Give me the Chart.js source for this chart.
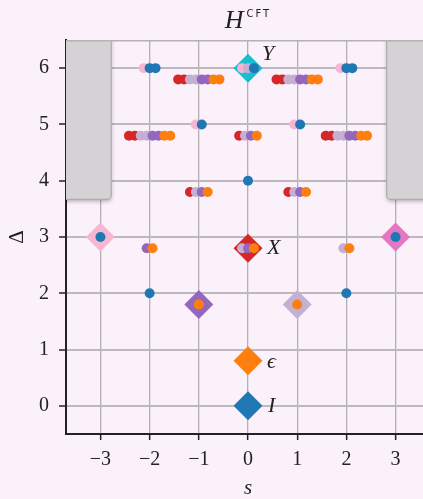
<!DOCTYPE html>
<html>
<head>
<meta charset="utf-8">
<title>H CFT spectrum</title>
<script src="https://cdn.jsdelivr.net/npm/chart.js@4.4.1/dist/chart.umd.min.js"></script>
<style>
  html, body { margin: 0; padding: 0; background: #fbf1fb; overflow: hidden; }
  canvas { display: block; }
</style>
</head>
<body>
<canvas id="spectrumChart" width="432" height="499"></canvas>
<script>
// Axis ticks
const sTicks = [-3, -2, -1, 0, 1, 2, 3];
const sTickLabels = ['−3', '−2', '−1', '0', '1', '2', '3'];
const deltaTicks = [0, 1, 2, 3, 4, 5, 6];
const deltaTickLabels = ['0', '1', '2', '3', '4', '5', '6'];

// CFT operators (diamonds)
const primaryS = [0, 0, -1, 1, 0, -3, 3, 0];
const primaryDelta = [0, 0.8, 1.8, 1.8, 2.8, 3, 3, 6];
const primaryColours = ['blue', 'orange', 'purple', 'lavender', 'red', 'pink', 'magenta', 'cyan'];
const primaryNames = ['I', 'ϵ', '', '', 'X', '', '', 'Y'];

// Numerical levels: spin, scaling dimension, and the states found there
const levelS = [-2, 0, 2, -1, 1, -1, 1, -2, 0, 2, 0, -1, 1, -3, 3, -2, 0, 2, -2, 2, -1, 1];
const levelDelta = [6, 6, 6, 5.8, 5.8, 5, 5, 4.8, 4.8, 4.8, 4, 3.8, 3.8, 3, 3, 2.8, 2.8, 2.8, 2, 2, 1.8, 1.8];
const levelStates = [
    ['pink', 'blue', 'blue'],
    ['pink', 'lavender', 'blue'],
    ['pink', 'blue', 'blue'],
    ['red', 'red', 'lavender', 'lavender', 'purple', 'purple', 'orange', 'orange'],
    ['red', 'red', 'lavender', 'lavender', 'purple', 'purple', 'orange', 'orange'],
    ['pink', 'blue'],
    ['pink', 'blue'],
    ['red', 'red', 'lavender', 'lavender', 'purple', 'purple', 'orange', 'orange'],
    ['red', 'lavender', 'purple', 'orange'],
    ['red', 'red', 'lavender', 'lavender', 'purple', 'purple', 'orange', 'orange'],
    ['blue'],
    ['red', 'lavender', 'purple', 'orange'],
    ['red', 'lavender', 'purple', 'orange'],
    ['blue'],
    ['blue'],
    ['purple', 'orange'],
    ['lavender', 'purple', 'orange'],
    ['lavender', 'orange'],
    ['blue'],
    ['blue'],
    ['orange'],
    ['orange']
];

const palette = {
    blue: '#1f77b4',
    orange: '#ff7f0e',
    red: '#d62728',
    purple: '#9467bd',
    lavender: '#c5b0d5',
    pink: '#f7b6d2',
    magenta: '#e377c2',
    cyan: '#17becf'
};

const serif = '"Liberation Serif", "DejaVu Serif", serif';
const ink = '#222';

// states sharing a level are spread a little along s so they stay visible
const spread = 0.12;
const dotOrder = ['blue', 'orange', 'purple', 'lavender', 'red', 'pink'];
const dotsByColour = {};
dotOrder.forEach(c => { dotsByColour[c] = []; });
levelS.forEach((s, i) => {
    const states = levelStates[i];
    states.forEach((c, j) => {
        dotsByColour[c].push({ x: s + (j - (states.length - 1) / 2) * spread, y: levelDelta[i] });
    });
});

const dotDatasets = dotOrder.map((c, k) => ({
    label: c,
    data: dotsByColour[c],
    backgroundColor: palette[c],
    borderWidth: 0,
    pointRadius: 5,
    order: k + 1
}));

const primaryDataset = {
    label: 'CFT',
    data: primaryS.map((s, i) => ({ x: s, y: primaryDelta[i] })),
    backgroundColor: primaryColours.map(c => palette[c]),
    borderWidth: 0,
    pointStyle: 'rectRot',
    pointRadius: 14.5,
    order: 20
};

// grey excluded corners, in data units
const excluded = [
    { s0: -3.9, s1: -2.78, d0: 3.67, d1: 6.7 },
    { s0: 2.82, s1: 3.9, d0: 3.67, d1: 6.7 }
];

const excludedPlugin = {
    id: 'excluded',
    beforeDatasetsDraw(chart) {
        const { ctx, chartArea: a, scales: { x, y } } = chart;
        ctx.save();
        ctx.beginPath();
        ctx.rect(a.left, a.top, a.right - a.left, a.bottom - a.top);
        ctx.clip();
        excluded.forEach(r => {
            const left = x.getPixelForValue(r.s0);
            const right = x.getPixelForValue(r.s1);
            const top = y.getPixelForValue(r.d1);
            const bottom = y.getPixelForValue(r.d0);
            ctx.save();
            ctx.shadowColor = 'rgba(0,0,0,0.3)';
            ctx.shadowBlur = 4;
            ctx.shadowOffsetY = 2;
            ctx.beginPath();
            ctx.roundRect(left, top, right - left, bottom - top, 4);
            ctx.fillStyle = '#d4d2d4';
            ctx.fill();
            ctx.restore();
            ctx.lineWidth = 1.2;
            ctx.strokeStyle = '#aeacae';
            ctx.stroke();
        });
        // top edge of the frame
        ctx.strokeStyle = '#b5b1b5';
        ctx.lineWidth = 3;
        ctx.beginPath();
        ctx.moveTo(a.left, a.top);
        ctx.lineTo(a.right, a.top);
        ctx.stroke();
        ctx.restore();
    }
};

// operator names next to their diamonds
const nameOffsets = { 'I': [20, 0], 'ϵ': [19, 1], 'X': [19, 0], 'Y': [14, -14] };

const namesPlugin = {
    id: 'names',
    afterDatasetsDraw(chart) {
        const { ctx, scales: { x, y } } = chart;
        ctx.save();
        ctx.fillStyle = ink;
        ctx.font = 'italic 22px ' + serif;
        ctx.textAlign = 'left';
        ctx.textBaseline = 'middle';
        primaryNames.forEach((name, i) => {
            if (!name) return;
            const off = nameOffsets[name] || [19, 0];
            ctx.fillText(name, x.getPixelForValue(primaryS[i]) + off[0], y.getPixelForValue(primaryDelta[i]) + off[1]);
        });
        ctx.restore();
    }
};

// title H^CFT
const titlePlugin = {
    id: 'hTitle',
    afterDraw(chart) {
        const { ctx, chartArea: a } = chart;
        const cx = (a.left + a.right) / 2;
        ctx.save();
        ctx.fillStyle = ink;
        ctx.textBaseline = 'alphabetic';
        ctx.textAlign = 'left';
        ctx.font = 'italic 26px ' + serif;
        const hWidth = ctx.measureText('H').width;
        ctx.font = '10px "DejaVu Sans", sans-serif';
        ctx.letterSpacing = '2px';
        const supWidth = ctx.measureText('CFT').width;
        const start = cx - (hWidth + 3 + supWidth) / 2;
        ctx.fillText('CFT', start + hWidth + 3, 17);
        ctx.letterSpacing = '0px';
        ctx.font = 'italic 26px ' + serif;
        ctx.fillText('H', start, 28);
        ctx.restore();
    }
};

const ctxSpectrum = document.getElementById('spectrumChart').getContext('2d');

new Chart(ctxSpectrum, {
    type: 'scatter',
    data: { datasets: [...dotDatasets, primaryDataset] },
    options: {
        responsive: false,
        animation: false,
        layout: { autoPadding: false, padding: { top: 40, right: 2, bottom: 0, left: 0 } },
        plugins: {
            legend: { display: false },
            tooltip: { enabled: false }
        },
        scales: {
            x: {
                type: 'linear',
                min: -3.7,
                max: 3.7,
                afterBuildTicks: scale => { scale.ticks = sTicks.map(v => ({ value: v })); },
                afterFit: scale => {
                    scale.height = 65;
                    scale.paddingLeft = 0;
                    scale.paddingRight = 0;
                },
                ticks: {
                    callback: (v, i) => sTickLabels[i],
                    autoSkip: false,
                    maxRotation: 0,
                    padding: 8,
                    color: ink,
                    font: { family: serif, size: 20 }
                },
                grid: { color: '#b3afb3', lineWidth: 1.3, tickLength: 6, tickColor: ink, tickWidth: 1.5 },
                border: { color: ink, width: 2 },
                title: {
                    display: true,
                    text: 's',
                    color: ink,
                    padding: 0,
                    font: { family: serif, size: 21, style: 'italic', lineHeight: 1 }
                }
            },
            y: {
                type: 'linear',
                min: -0.5,
                max: 6.5,
                afterBuildTicks: scale => { scale.ticks = deltaTicks.map(v => ({ value: v })); },
                afterFit: scale => {
                    scale.width = 66;
                    scale.paddingTop = 0;
                    scale.paddingBottom = 0;
                },
                ticks: {
                    callback: (v, i) => deltaTickLabels[i],
                    autoSkip: false,
                    padding: 10,
                    color: ink,
                    font: { family: serif, size: 20 }
                },
                grid: { color: '#bdb9bd', lineWidth: 2, tickLength: 7, tickColor: ink, tickWidth: 1.5 },
                border: { color: ink, width: 2 },
                title: {
                    display: true,
                    text: 'Δ',
                    color: ink,
                    padding: { top: 5, bottom: 0 },
                    font: { family: serif, size: 21, lineHeight: 1.2 }
                }
            }
        }
    },
    plugins: [excludedPlugin, namesPlugin, titlePlugin]
});
</script>
</body>
</html>
